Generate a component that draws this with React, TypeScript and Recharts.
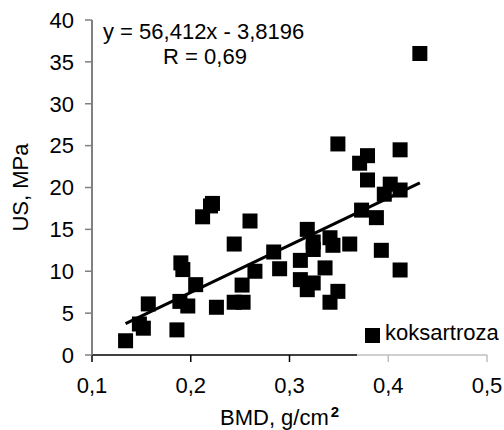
import React from "react";
import { ScatterChart, Scatter, XAxis, YAxis, Legend } from "recharts";

// BMD (g/cm2) and US (MPa) per patient
const bmd = [
  0.134, 0.148, 0.152, 0.157, 0.186, 0.189, 0.197, 0.19, 0.192, 0.205,
  0.212, 0.22, 0.222, 0.226, 0.244, 0.244, 0.253, 0.252, 0.26, 0.265,
  0.284, 0.29, 0.311, 0.311, 0.318, 0.324, 0.318, 0.324, 0.324, 0.336,
  0.341, 0.344, 0.349, 0.341, 0.349, 0.361, 0.371, 0.379, 0.379, 0.373,
  0.388, 0.393, 0.396, 0.402, 0.412, 0.412, 0.412, 0.432,
];
const us = [
  1.7, 3.7, 3.2, 6.1, 3.0, 6.4, 5.85, 11.0, 10.2, 8.4,
  16.5, 17.8, 18.1, 5.7, 13.25, 6.3, 6.3, 8.35, 16.0, 10.0,
  12.3, 10.3, 11.3, 9.0, 7.8, 8.6, 15.0, 13.5, 12.6, 10.4,
  14.0, 13.1, 7.6, 6.3, 25.2, 13.25, 22.9, 23.8, 20.9, 17.3,
  16.4, 12.5, 19.2, 20.4, 19.7, 24.5, 10.15, 36.0,
];

const xTicks = [0.1, 0.2, 0.3, 0.4, 0.5];
const yTicks = [0, 5, 10, 15, 20, 25, 30, 35, 40];

// linear trendline shown on the chart
const slope = 56.412;
const intercept = -3.8196;
const equationText = "y = 56,412x - 3,8196";
const rText = "R = 0,69";

const seriesName = "koksartroza";
const xTitle = "BMD, g/cm";
const xTitleSup = "2";
const yTitle = "US, MPa";

const FONT = '"Liberation Sans", Arial, sans-serif';

const points = bmd.map((x, i) => ({ x, y: us[i] }));
const trend = [Math.min(...bmd), Math.max(...bmd)].map(x => ({
  x,
  y: slope * x + intercept,
}));

const comma = (v: number, d: number) => v.toFixed(d).replace(".", ",");

function Square(props: any) {
  const { cx, cy } = props;
  if (cx == null || cy == null) return null;
  return <rect x={cx - 7.5} y={cy - 7.5} width={15} height={15} fill="#000" />;
}

const renderYTitle = () => (
  <text
    x={28}
    y={187.5}
    transform="rotate(-90 28 187.5)"
    textAnchor="middle"
    fontSize={22}
    fontFamily={FONT}
    fill="#000"
  >
    {yTitle}
  </text>
);

const renderXTitle = () => (
  <text x={220} y={425} fontSize={22} fontFamily={FONT} fill="#000">
    {xTitle}
    <tspan dx={2} dy={-8} fontSize={15} fontWeight="bold">
      {xTitleSup}
    </tspan>
  </text>
);

const renderLegend = () => (
  <div style={{ position: "relative", width: 147, height: 50 }}>
    <div
      style={{
        position: "absolute",
        left: 8,
        top: 10,
        width: 15,
        height: 15,
        background: "#000",
      }}
    />
    <span
      style={{
        position: "absolute",
        left: 28,
        top: 4,
        fontSize: 22,
        lineHeight: "22px",
        fontFamily: FONT,
        color: "#000",
        whiteSpace: "nowrap",
      }}
    >
      {seriesName}
    </span>
  </div>
);

export default function App() {
  return (
    <div style={{ position: "relative", width: 504, height: 430, fontFamily: FONT }}>
      <style>{"body{margin:0}"}</style>
      <ScatterChart
        width={504}
        height={430}
        margin={{ top: 20, right: 17, bottom: 0, left: 0 }}
      >
        <XAxis
          type="number"
          dataKey="x"
          domain={[0.1, 0.5]}
          ticks={xTicks}
          interval={0}
          allowDataOverflow
          tickFormatter={(v: number) => comma(v, 1)}
          tick={{ fill: "#000", fontSize: 22, fontFamily: FONT }}
          tickSize={7}
          tickMargin={15}
          height={75}
          axisLine={{ stroke: "#000", strokeWidth: 1.5 }}
          tickLine={{ stroke: "#000", strokeWidth: 1.5 }}
          label={renderXTitle}
        />
        <YAxis
          type="number"
          dataKey="y"
          domain={[0, 40]}
          ticks={yTicks}
          interval={0}
          allowDataOverflow
          tick={{ fill: "#000", fontSize: 22, fontFamily: FONT }}
          tickSize={7}
          tickMargin={11}
          width={92}
          axisLine={{ stroke: "#808080", strokeWidth: 2 }}
          tickLine={{ stroke: "#808080", strokeWidth: 1.5 }}
          label={renderYTitle}
        />
        <Scatter
          name={seriesName}
          data={points}
          fill="#000"
          shape={Square}
          isAnimationActive={false}
        />
        <Scatter
          data={trend}
          line={{ stroke: "#000", strokeWidth: 3 }}
          shape={() => <g />}
          legendType="none"
          isAnimationActive={false}
        />
        <Legend
          layout="horizontal"
          verticalAlign="middle"
          align="center"
          content={renderLegend}
          wrapperStyle={{
            left: 357,
            top: 318,
            width: 147,
            height: 50,
            background: "rgba(255,255,255,0.75)",
          }}
        />
      </ScatterChart>
      <svg
        width={504}
        height={430}
        style={{ position: "absolute", left: 0, top: 0, pointerEvents: "none" }}
      >
        <text x={103} y={39} fontSize={22} fontFamily={FONT} fill="#000">
          {equationText}
        </text>
        <text x={205} y={64} fontSize={22} fontFamily={FONT} fill="#000" textAnchor="middle">
          {rText}
        </text>
      </svg>
    </div>
  );
}
